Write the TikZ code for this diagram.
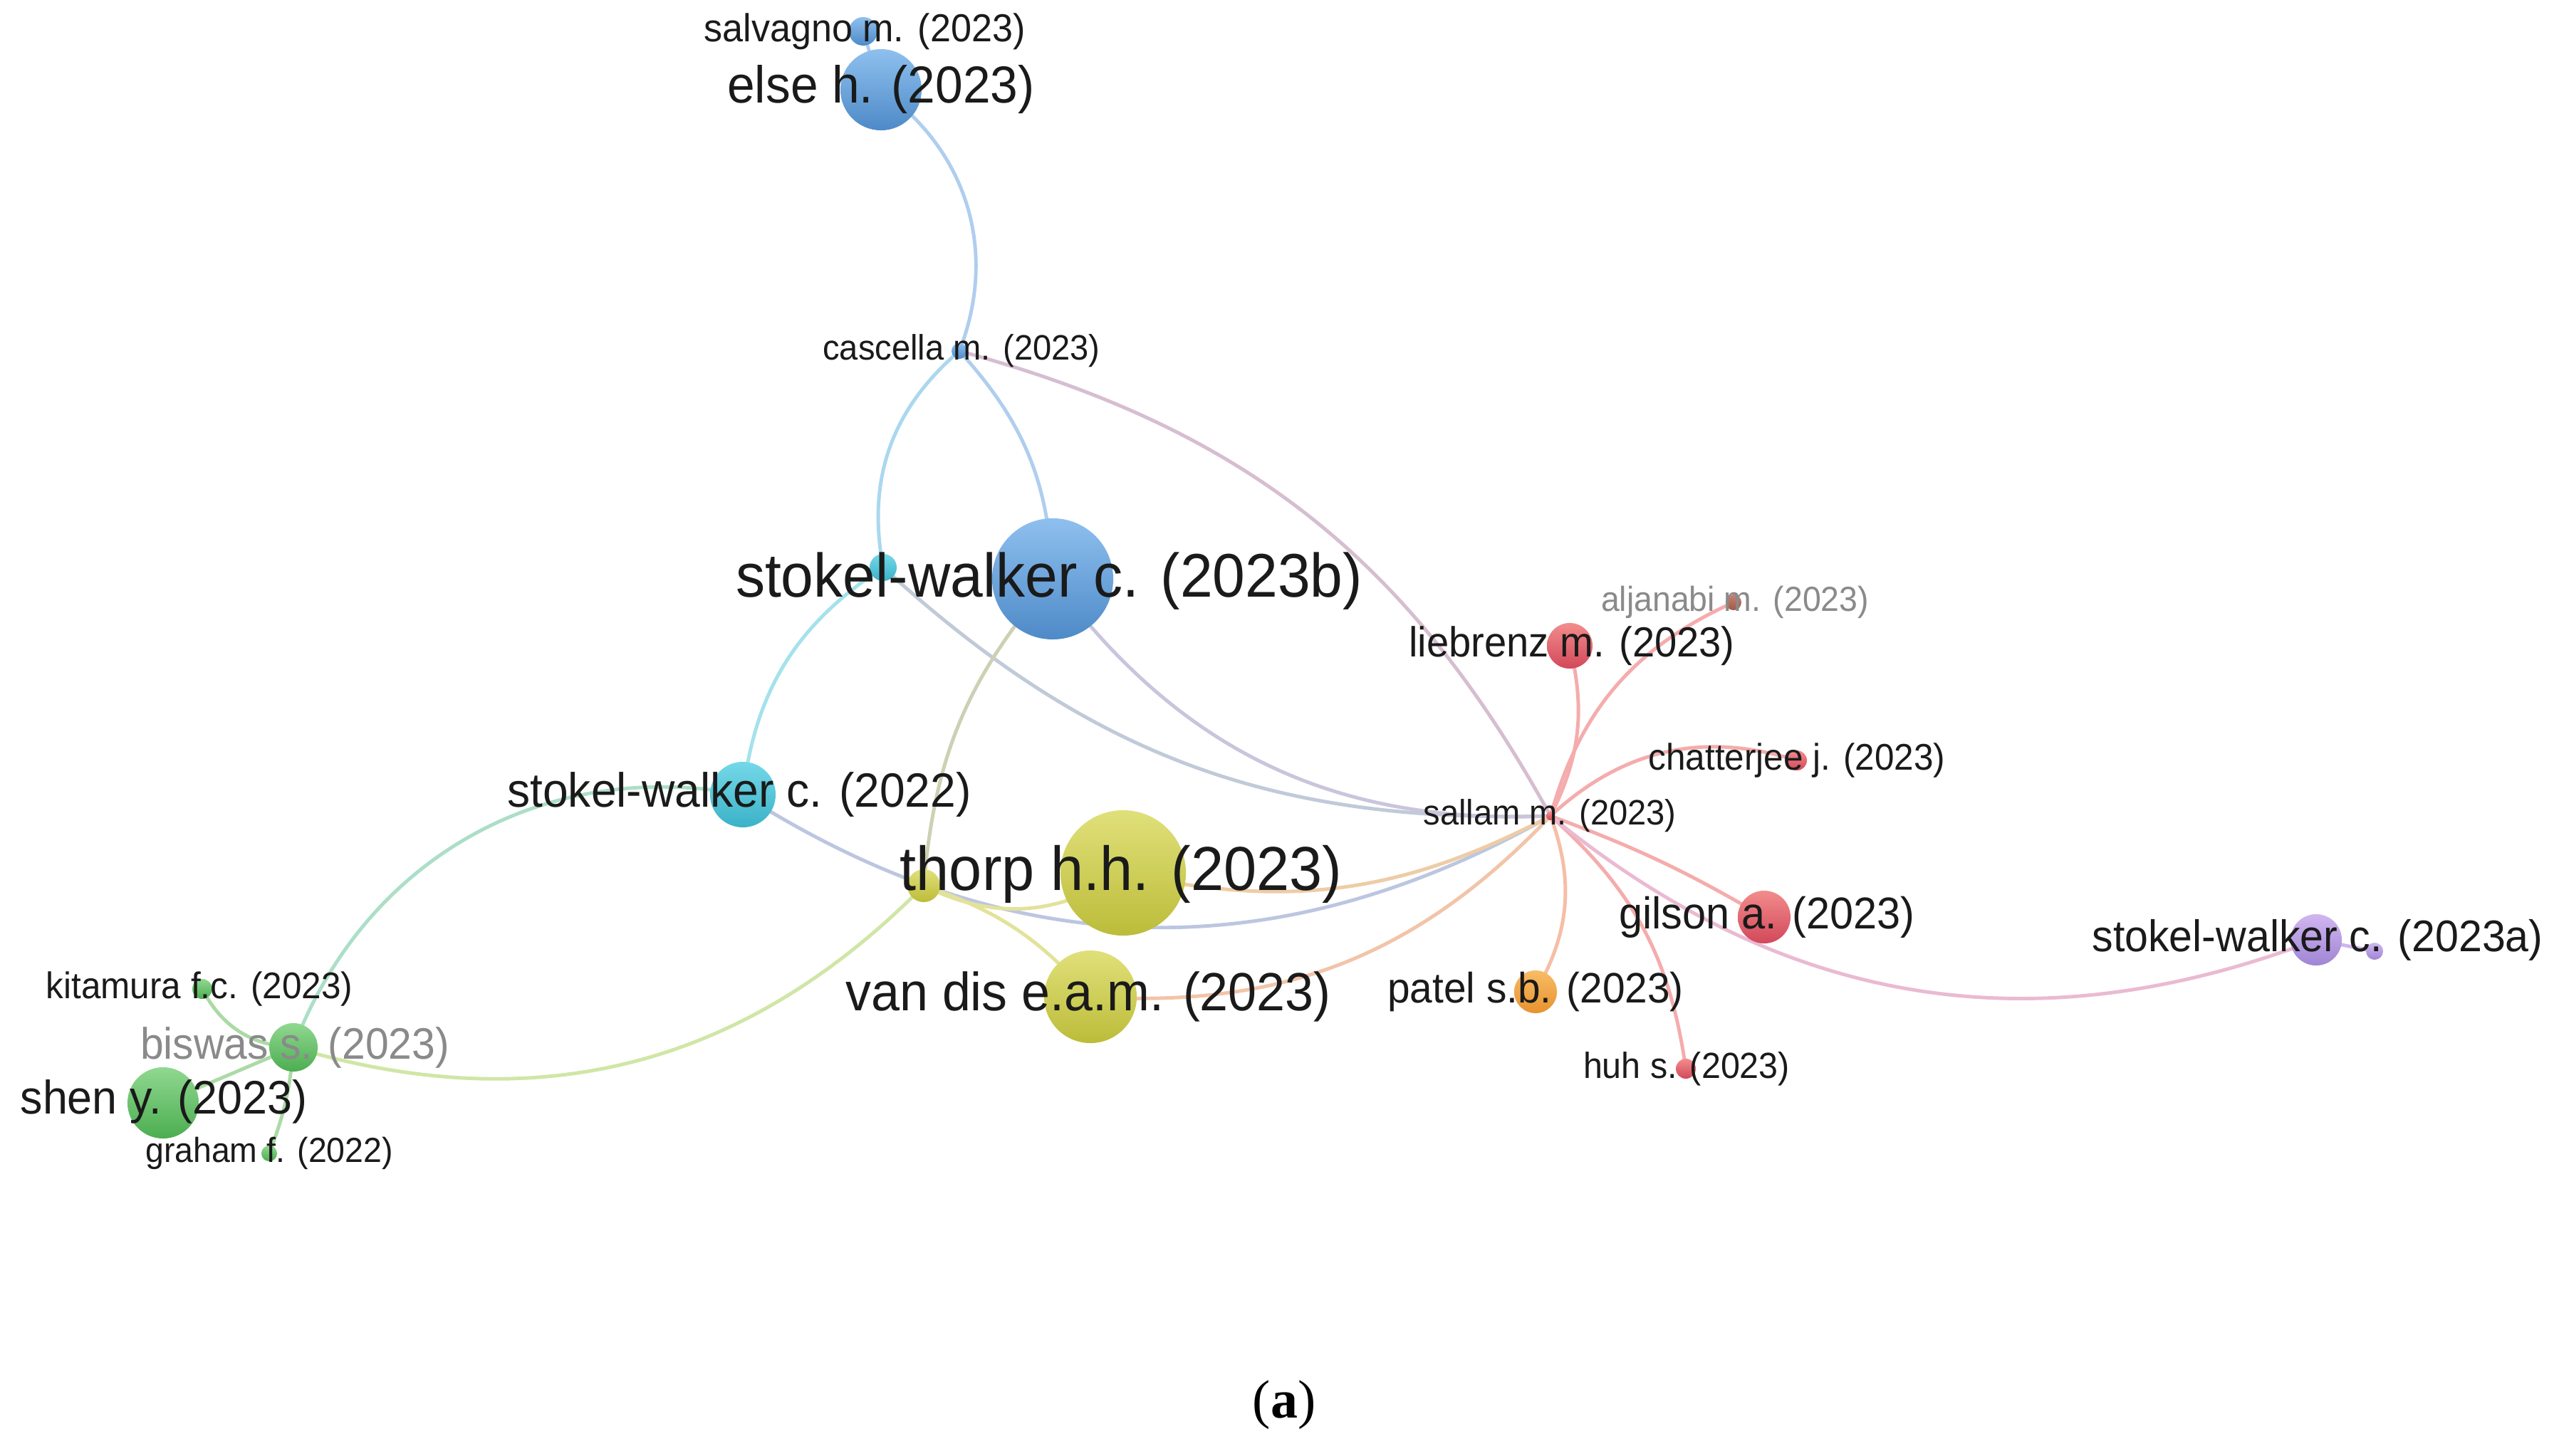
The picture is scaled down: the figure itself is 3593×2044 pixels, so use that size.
\documentclass[tikz,border=0pt]{standalone}
\usepackage{fontspec}
\setmainfont{Liberation Sans}[FakeStretch=0.95]
\newfontfamily\capfont{Liberation Serif}
\pgfdeclarelayer{bglayer}
\pgfdeclarelayer{edgelayer}
\pgfsetlayers{bglayer,edgelayer,main}
% node colours
\definecolor{bluet}{HTML}{8EC0EE}\definecolor{blueb}{HTML}{4E8AC8}
\definecolor{cyant}{HTML}{74D8E8}\definecolor{cyanb}{HTML}{3BB2C8}
\definecolor{yelt}{HTML}{E0E07A}\definecolor{yelb}{HTML}{BCBC3A}
\definecolor{redt}{HTML}{F28C8C}\definecolor{redb}{HTML}{D2485A}
\definecolor{orat}{HTML}{F8BC66}\definecolor{orab}{HTML}{E8922E}
\definecolor{grnt}{HTML}{90D890}\definecolor{grnb}{HTML}{4CAD50}
\definecolor{purt}{HTML}{D0B6F0}\definecolor{purb}{HTML}{A085D4}
\definecolor{brnt}{HTML}{C88272}\definecolor{brnb}{HTML}{9E5848}
% edge colours
\definecolor{eblue}{HTML}{B0CEEE}
\definecolor{ebcy}{HTML}{AAD8EE}
\definecolor{ecyan}{HTML}{A4E2EC}
\definecolor{ebp}{HTML}{D6BED0}
\definecolor{ecp}{HTML}{C0CAD8}
\definecolor{ebpp}{HTML}{CAC4DC}
\definecolor{eby}{HTML}{CED0B4}
\definecolor{ecpu}{HTML}{BCC6E0}
\definecolor{eyp}{HTML}{EECCA6}
\definecolor{eyel}{HTML}{E2E29A}
\definecolor{eop}{HTML}{F2C4A8}
\definecolor{eorp}{HTML}{F6BEA6}
\definecolor{epink}{HTML}{F5ACAC}
\definecolor{epl}{HTML}{EABAD2}
\definecolor{epur}{HTML}{CEB6EC}
\definecolor{ecg}{HTML}{ACDEC8}
\definecolor{egy}{HTML}{D0E6A6}
\definecolor{egrn}{HTML}{ACDAA6}
% text colours
\definecolor{txtc}{HTML}{1A1A1A}
\definecolor{txtg}{HTML}{8A8A8A}
\begin{document}
\begin{tikzpicture}[x=0.01cm,y=-0.01cm,
  bub/.style={circle,inner sep=0pt,minimum size=#1},
  cblue/.style={top color=bluet,bottom color=blueb},
  ccyan/.style={top color=cyant,bottom color=cyanb},
  cyel/.style={top color=yelt,bottom color=yelb},
  cred/.style={top color=redt,bottom color=redb},
  cora/.style={top color=orat,bottom color=orab},
  cgrn/.style={top color=grnt,bottom color=grnb},
  cpur/.style={top color=purt,bottom color=purb},
  cbrn/.style={top color=brnt,bottom color=brnb},
  lbl/.style={inner sep=0pt,text=txtc,font={\fontsize{#1}{#1}\selectfont}},
  glbl/.style={lbl=#1,text=txtg},
  lnk/.style={line width=1.4pt,line cap=round}]
\begin{pgfonlayer}{bglayer}
\fill[white] (0,0) rectangle (3593,2044);
\end{pgfonlayer}
\useasboundingbox (0,0) rectangle (3593,2044);

% ---- circles ----
\node[bub=0.40cm,cblue] (salvagno) at (1212,44) {};
\node[bub=1.14cm,cblue] (else) at (1237,126) {};
\node[bub=0.22cm,cblue] (cascella) at (1347,493) {};
\node[bub=1.70cm,cblue] (swb) at (1478,813) {};
\node[bub=0.38cm,ccyan] (scyan) at (1240,797) {};
\node[bub=0.92cm,ccyan] (sw22) at (1043,1116) {};
\node[bub=1.76cm,cyel] (thorp) at (1577,1226) {};
\node[bub=0.46cm,cyel] (syel) at (1297,1244) {};
\node[bub=1.30cm,cyel] (vandis) at (1531,1400) {};
\node[bub=0.12cm,cred] (sallam) at (2177,1146) {};
\node[bub=0.64cm,cred] (liebrenz) at (2204,907) {};
\node[bub=0.22cm,cbrn] (aljanabi) at (2434,846) {};
\node[bub=0.28cm,cred] (chatterjee) at (2523,1068) {};
\node[bub=0.74cm,cred] (gilson) at (2477,1288) {};
\node[bub=0.60cm,cora] (patel) at (2156,1393) {};
\node[bub=0.28cm,cred] (huh) at (2367,1501) {};
\node[bub=0.72cm,cpur] (swa) at (3252,1320) {};
\node[bub=0.24cm,cpur] (spur) at (3334,1336) {};
\node[bub=0.28cm,cgrn] (kitamura) at (284,1389) {};
\node[bub=0.68cm,cgrn] (biswas) at (412,1471) {};
\node[bub=1.00cm,cgrn] (shen) at (229,1549) {};
\node[bub=0.22cm,cgrn] (graham) at (378,1620) {};

% ---- connectors ----
\begin{pgfonlayer}{edgelayer}
\draw[lnk,eblue] (salvagno.center) -- (else.center);
\draw[lnk,eblue] (else.center) to[bend left=38] (cascella.center);
\draw[lnk,eblue] (cascella.center) to[bend left=20] (swb.center);
\draw[lnk,ebcy] (cascella.center) to[bend right=30] (scyan.center);
\draw[lnk,ebp] (cascella.center) to[bend left=23] (sallam.center);
\draw[lnk,ecyan] (scyan.center) to[bend right=25] (sw22.center);
\draw[lnk,ecp] (scyan.center) to[bend right=22] (sallam.center);
\draw[lnk,ebpp] (swb.center) to[bend right=28] (sallam.center);
\draw[lnk,eby] (swb.center) to[bend right=18] (syel.center);
\draw[lnk,ecpu] (sw22.center) to[bend right=31] (sallam.center);
\draw[lnk,eyp] (thorp.center) to[bend right=20] (sallam.center);
\draw[lnk,eyel] (syel.center) to[bend right=30] (thorp.center);
\draw[lnk,eyel] (syel.center) to[bend left=15] (vandis.center);
\draw[lnk,eop] (vandis.center) to[bend right=25] (sallam.center);
\draw[lnk,eorp] (patel.center) to[bend right=25] (sallam.center);
\draw[lnk,epink] (liebrenz.center) to[bend left=20] (sallam.center);
\draw[lnk,epink] (aljanabi.center) to[bend right=25] (sallam.center);
\draw[lnk,epink] (chatterjee.center) to[bend right=30] (sallam.center);
\draw[lnk,epink] (sallam.center) to[bend left=5] (gilson.center);
\draw[lnk,epink] (huh.center) to[bend right=20] (sallam.center);
\draw[lnk,epl] (sallam.center) to[bend right=30] (swa.center);
\draw[lnk,epur] (swa.center) -- (spur.center);
\draw[lnk,ecg] (sw22.center) to[bend right=40] (biswas.center);
\draw[lnk,egy] (biswas.center) to[bend right=31] (syel.center);
\draw[lnk,egrn] (kitamura.center) to[bend right=30] (biswas.center);
\draw[lnk,egrn] (shen.center) -- (biswas.center);
\draw[lnk,egrn] (biswas.center) to[bend left=8] (graham.center);
\end{pgfonlayer}

% ---- labels ----
\node[lbl=15.6] (salvagnoL) at (1214,44) {salvagno m. (2023)};
\node[lbl=20.8] (elseL) at (1237,126) {else h. (2023)};
\node[lbl=14.1] (cascellaL) at (1350,493) {cascella m. (2023)};
\node[lbl=24.6] (swbL) at (1473,816) {stokel-walker c. (2023b)};
\node[lbl=19.2] (sw22L) at (1038,1116) {stokel-walker c. (2022)};
\node[lbl=24.8] (thorpL) at (1574,1228) {thorp h.h. (2023)};
\node[lbl=21.5] (vandisL) at (1528,1400) {van dis e.a.m. (2023)};
\node[lbl=14.1] (sallamL) at (2176,1146) {sallam m. (2023)};
\node[lbl=16.8] (liebrenzL) at (2207,907) {liebrenz m. (2023)};
\node[glbl=13.9] (aljanabiL) at (2436,846) {aljanabi m. (2023)};
\node[lbl=14.8] (chatterjeeL) at (2523,1068) {chatterjee j. (2023)};
\node[lbl=17.8] (gilsonL) at (2481,1288) {gilson a. (2023)};
\node[lbl=17.0] (patelL) at (2156,1393) {patel s.b. (2023)};
\node[lbl=14.5] (huhL) at (2368,1501) {huh s. (2023)};
\node[lbl=17.7] (swaL) at (3254,1320) {stokel-walker c. (2023a)};
\node[lbl=14.8] (kitamuraL) at (280,1389) {kitamura f.c. (2023)};
\node[glbl=17.6] (biswasL) at (414,1471) {biswas s. (2023)};
\node[lbl=18.8] (shenL) at (230,1547) {shen y. (2023)};
\node[lbl=13.9] (grahamL) at (378,1620) {graham f. (2022)};

\node[inner sep=0pt,text=black,font={\capfont\fontsize{21.6}{21.6}\selectfont}] (cap) at (1803,1973) {(\textbf{a})};
\end{tikzpicture}
\end{document}
